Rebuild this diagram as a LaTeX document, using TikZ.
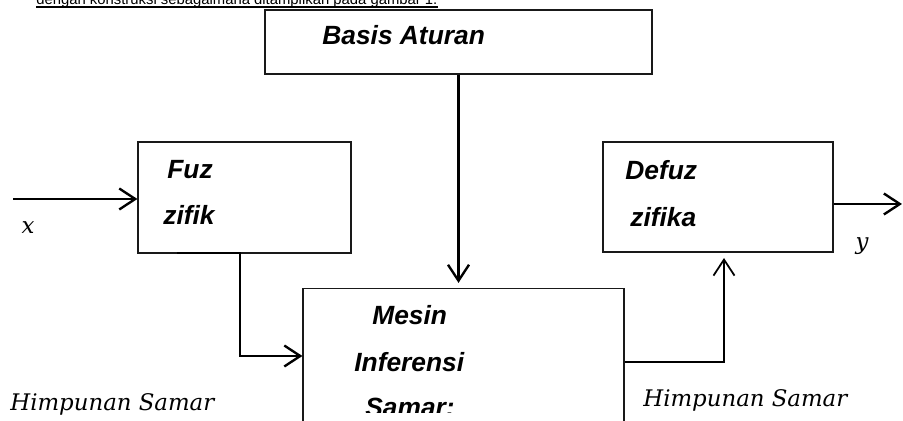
\documentclass[tikz,border=0pt]{standalone}
\usepackage{fontspec}
\setmainfont{Liberation Sans}
\newfontfamily\cambriaish{DejaVu Serif}
\usetikzlibrary{arrows.meta}

\begin{document}
\begin{tikzpicture}[x=0.02cm, y=-0.02cm,
    blok/.style={draw=black!90, line width=0.7pt, rectangle, inner sep=0pt},
    judul/.style={anchor=west, inner sep=0pt, font=\fontsize{15}{18}\selectfont\bfseries\itshape},
    var/.style={inner sep=0pt, font=\cambriaish\itshape\fontsize{13}{15}\selectfont},
    arr/.style={-{Straight Barb[length=0.32cm,width=0.42cm]}, line width=1.35pt}]
    \clip (0,0) rectangle (903,421);
    % text line of the page above the figure
    \node[anchor=base west, inner sep=0pt, font=\fontsize{8.45}{10}\selectfont] (intro) at (36,5) {dengan konstruksi sebagaimana ditampilkan pada gambar 1.};
    \draw[line width=0.8pt] ([yshift=-1.1pt]intro.base west) -- ([yshift=-1.1pt]intro.base east);
    % blocks
    \node[blok, minimum width=7.74cm, minimum height=1.28cm] (basis) at (458.5,42) {};
    \node[blok, minimum width=4.26cm, minimum height=2.22cm] (fuz) at (244.5,197.5) {};
    \node[blok, minimum width=4.6cm, minimum height=2.2cm] (defuz) at (718,197) {};
    \node[blok, minimum width=6.42cm, minimum height=3.9cm] (mesin) at (463.5,386) {};
    \node[judul] (tb) at (322,35) {Basis Aturan};
    \node[judul] (tf1) at (167,170) {Fuz};
    \node[judul] (tf2) at (163,215) {zifik};
    \node[judul] (td1) at (625,170) {Defuz};
    \node[judul] (td2) at (630,217) {zifika};
    \node[judul] (tm1) at (372,315) {Mesin};
    \node[judul] (tm2) at (354,362) {Inferensi};
    \begin{scope}
        \clip (303,289) rectangle (624,413);
        \node[judul] (tm3) at (365,407) {Samar:};
    \end{scope}
    % labels
    \node[var] (lx) at (28,228) {x};
    \node[var] (ly) at (862,246) {y};
    \node[var, anchor=base west] (hs1) at (10,411) {Himpunan Samar};
    \node[var, anchor=base west] (hs2) at (643,407) {Himpunan Samar};
    % connectors
    \coordinate (xin) at (13,199);
    \coordinate (yout) at (902,204);
    \coordinate (fzout) at (177,253);
    \coordinate (dfin) at (724,258);
    \draw[arr] (xin) -- (xin -| fuz.west);
    \draw[arr] (defuz.east |- yout) -- (yout);
    \draw[arr, shorten >=0.1cm] (basis.south) -- (basis.south |- mesin.north);
    \draw[arr] (fzout) -- ++(63,0) |- (mesin.west |- 0,356);
    \draw[arr, line width=1pt] (mesin.east |- 0,362) -| (dfin);
\end{tikzpicture}
\end{document}
